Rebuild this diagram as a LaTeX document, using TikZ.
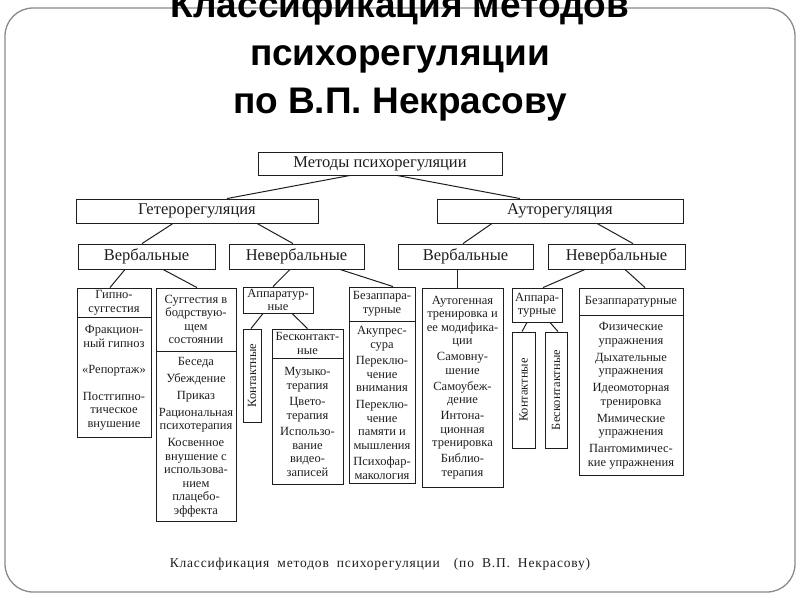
\documentclass[tikz,border=0pt]{standalone}
\usepackage{fontspec}
\setmainfont{Liberation Serif}
\newfontfamily\titlefont{Liberation Sans}
\newfontfamily\captionfont{Liberation Serif}[LetterSpace=6]
\usetikzlibrary{positioning}

\definecolor{framegray}{HTML}{8A8A8A}
\definecolor{ink}{HTML}{1E1E1E}

\tikzset{
    catbox/.style={draw=ink, line width=0.9pt, rectangle, inner xsep=1pt, inner ysep=0.5pt, align=center, text=ink},
    levelbox/.style={catbox, font=\fontsize{16.5pt}{18pt}\selectfont, minimum height=24pt},
    smallbox/.style={catbox, font=\fontsize{12.5pt}{13.5pt}\selectfont},
    vertbox/.style={smallbox, rotate=90},
    branch/.style={draw=ink, line width=1pt}
}

\begin{document}
\begin{tikzpicture}[x=1pt, y=-1pt]
    \useasboundingbox (0,0) rectangle (800,600);
    \draw[framegray, line width=1.3pt, rounded corners=28pt] (5,8) rectangle (795,592);

    \node[font=\titlefont\bfseries\fontsize{37pt}{44pt}\selectfont, anchor=base] (title1) at (400,17) {Классификация методов};
    \node[font=\titlefont\bfseries\fontsize{37pt}{44pt}\selectfont, anchor=base] (title2) at (400,65) {психорегуляции};
    \node[font=\titlefont\bfseries\fontsize{37pt}{44pt}\selectfont, anchor=base] (title3) at (400,113) {по В.П. Некрасову};

    \node[levelbox, minimum width=244pt, minimum height=23pt] (methods) at (380,163.5) {Методы психорегуляции};
    \node[levelbox, minimum width=242pt] (hetero) at (197,211) {Гетерорегуляция};
    \node[levelbox, minimum width=246pt] (auto) at (560,211) {Ауторегуляция};
    \node[levelbox, minimum width=137pt, minimum height=25pt] (hverb) at (146.5,256.5) {Вербальные};
    \node[levelbox, minimum width=135pt, minimum height=25pt] (hnonverb) at (296.5,256.5) {Невербальные};
    \node[levelbox, minimum width=135pt, minimum height=25pt] (averb) at (465.5,256.5) {Вербальные};
    \node[levelbox, minimum width=137pt, minimum height=25pt] (anonverb) at (616.5,256.5) {Невербальные};

    \node[smallbox, minimum width=74pt, minimum height=29pt] (hypnohead) at (114,302.5) {Гипно-\\суггестия};
    \node[smallbox, minimum width=74pt, minimum height=120pt, below=0pt of hypnohead] (hypnobody)
        {Фракцион-\\ный гипноз\\[13pt]«Репортаж»\\[13pt]Постгипно-\\тическое\\внушение};
    \node[smallbox, minimum width=80pt, minimum height=63pt] (sugghead) at (196,319.5) {Суггестия в\\бодрствую-\\щем\\состоянии};
    \node[smallbox, minimum width=80pt, minimum height=170pt, below=0pt of sugghead] (suggbody)
        {Беседа\\[3.5pt]Убеждение\\[3.5pt]Приказ\\[3.5pt]Рациональная\\психотерапия\\[3.5pt]Косвенное\\внушение с\\использова-\\нием\\плацебо-\\эффекта};

    \node[smallbox, minimum width=70pt, minimum height=26pt] (happar) at (278,300) {Аппаратур-\\ные};
    \node[vertbox, minimum width=93pt, minimum height=18pt] (hcontact) at (252,375.5) {Контактные};
    \node[smallbox, minimum width=71pt, minimum height=29pt] (hnoncontacthead) at (307.5,343.5) {Бесконтакт-\\ные};
    \node[smallbox, minimum width=71pt, minimum height=126pt, below=0pt of hnoncontacthead] (hnoncontactbody)
        {Музыко-\\терапия\\[3pt]Цвето-\\терапия\\[3pt]Использо-\\вание\\видео-\\записей};
    \node[smallbox, minimum width=66pt, minimum height=34pt] (hnoapparhead) at (382,304) {Безаппара-\\турные};
    \node[smallbox, minimum width=66pt, minimum height=162pt, below=0pt of hnoapparhead] (hnoapparbody)
        {Акупрес-\\сура\\[3.3pt]Переклю-\\чение\\внимания\\[3.3pt]Переклю-\\чение\\памяти и\\мышления\\[3.3pt]Психофар-\\макология};

    \node[smallbox, minimum width=81pt, minimum height=199pt] (autogen) at (462.5,387.5)
        {Аутогенная\\тренировка и\\ее модифика-\\ции\\[2.5pt]Самовну-\\шение\\[2.5pt]Самоубеж-\\дение\\[2.5pt]Интона-\\ционная\\тренировка\\[2.5pt]Библио-\\терапия};
    \node[smallbox, minimum width=50pt, minimum height=34pt] (aappar) at (537,305) {Аппара-\\турные};
    \node[vertbox, minimum width=116pt, minimum height=23pt] (acontact) at (523.5,390) {Контактные};
    \node[vertbox, minimum width=116pt, minimum height=22pt] (anoncontact) at (556,390) {Бесконтактные};
    \node[smallbox, minimum width=104pt, minimum height=27pt] (anoapparhead) at (631,301.5) {Безаппаратурные};
    \node[smallbox, minimum width=104pt, minimum height=160pt, below=0pt of anoapparhead] (anoapparbody)
        {Физические\\упражнения\\[3.5pt]Дыхательные\\упражнения\\[3.5pt]Идеомоторная\\тренировка\\[3.5pt]Мимические\\упражнения\\[3.5pt]Пантомимичес-\\кие упражнения};

    \draw[branch] ([xshift=-30pt]methods.south) -- ([xshift=30pt]hetero.north);
    \draw[branch] ([xshift=17pt]methods.south) -- ([xshift=-40pt]auto.north);
    \draw[branch] ([xshift=-24pt]hetero.south) -- ([xshift=-4.5pt]hverb.north);
    \draw[branch] ([xshift=60pt]hetero.south) -- ([xshift=-3.5pt]hnonverb.north);
    \draw[branch] ([xshift=-68pt]auto.south) -- ([xshift=-2.5pt]averb.north);
    \draw[branch] ([xshift=37pt]auto.south) -- ([xshift=16.5pt]anonverb.north);
    \draw[branch] ([xshift=-21.5pt]hverb.south) -- ([xshift=-4pt]hypnohead.north);
    \draw[branch] ([xshift=16.5pt]hverb.south) -- ([xshift=1pt]sugghead.north);
    \draw[branch] ([xshift=-6.5pt]hnonverb.south) -- ([xshift=-5pt]happar.north);
    \draw[branch] ([xshift=43.5pt]hnonverb.south) -- ([xshift=11pt]hnoapparhead.north);
    \draw[branch] ([xshift=-15pt]happar.south) -- ([xshift=-1pt]hcontact.east);
    \draw[branch] ([xshift=14pt]happar.south) -- (hnoncontacthead.north);
    \draw[branch] ([xshift=-8.5pt]averb.south) -- ([xshift=-5.5pt]autogen.north);
    \draw[branch] ([xshift=-31.5pt]anonverb.south) -- ([xshift=6pt]aappar.north);
    \draw[branch] ([xshift=8.5pt]anonverb.south) -- ([xshift=14pt]anoapparhead.north);
    \draw[branch] ([xshift=-10pt]aappar.south) -- ([xshift=-1.5pt]acontact.east);
    \draw[branch] ([xshift=13pt]aappar.south) -- ([xshift=2pt]anoncontact.east);

    \node[font=\captionfont\fontsize{13.5pt}{15pt}\selectfont, anchor=base, text=ink] (caption) at (380,567)
        {\spaceskip=8pt Классификация методов психорегуляции\hspace{14pt}(по В.П. Некрасову)};
\end{tikzpicture}
\end{document}
